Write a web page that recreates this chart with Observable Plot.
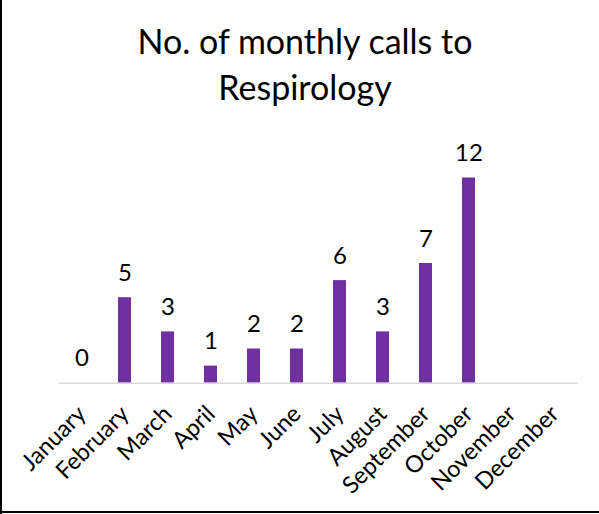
<!DOCTYPE html>
<html>
<head>
<meta charset="utf-8">
<script src="https://cdn.jsdelivr.net/npm/d3@7"></script>
<script src="https://cdn.jsdelivr.net/npm/@observablehq/plot@0.6"></script>
<style>
  html, body { margin: 0; padding: 0; background: #fff; }
  #wrap { position: relative; width: 599px; height: 514px; overflow: hidden; background: #fff; font-family: Lato, sans-serif; }
  #title { position: absolute; left: 0; top: 18px; width: 610px; text-align: center; font-size: 34px; line-height: 46px; color: #000; z-index: 2; white-space: nowrap; }
  #bl { position: absolute; left: 0; top: 0; width: 2px; height: 514px; background: #000; z-index: 3; }
  #bb { position: absolute; left: 0; top: 511px; width: 599px; height: 2px; background: #000; z-index: 3; }
  #chart { position: absolute; left: 0; top: 0; }
</style>
</head>
<body>
<div id="wrap">
  <div id="title"></div>
  <div id="chart"></div>
  <div id="bl"></div>
  <div id="bb"></div>
</div>
<script>
const titleLines = ["No. of monthly calls to", "Respirology"];
const months = ["January", "February", "March", "April", "May", "June", "July", "August", "September", "October", "November", "December"];
const calls = [0, 5, 3, 1, 2, 2, 6, 3, 7, 12, null, null];

document.getElementById("title").innerHTML = titleLines.join("<br>");

const data = months.map((m, i) => ({month: m, calls: calls[i]}));
const barData = data.filter(d => d.calls != null);

const chart = Plot.plot({
  width: 599,
  height: 514,
  marginLeft: 59,
  marginRight: 21.4,
  marginTop: 143.3,
  marginBottom: 131.3,
  style: {fontFamily: "Lato, sans-serif", background: "transparent", color: "#000"},
  x: {domain: months, paddingInner: 0.69, paddingOuter: 0.345},
  y: {domain: [0, 14], axis: null},
  marks: [
    Plot.barY(barData, {x: "month", y: "calls", fill: "#7030A0"}),
    Plot.ruleY([0], {stroke: "#d9d9d9", strokeWidth: 1.5}),
    Plot.text(barData, {x: "month", y: "calls", text: d => String(d.calls), lineAnchor: "bottom", dy: -17, fontSize: 24, fill: "#000"}),
    Plot.axisX({tickSize: 0, tickPadding: 27, tickRotate: -45, fontSize: 23.5, label: null, fill: "#000"})
  ]
});
document.getElementById("chart").appendChild(chart);
</script>
</body>
</html>
